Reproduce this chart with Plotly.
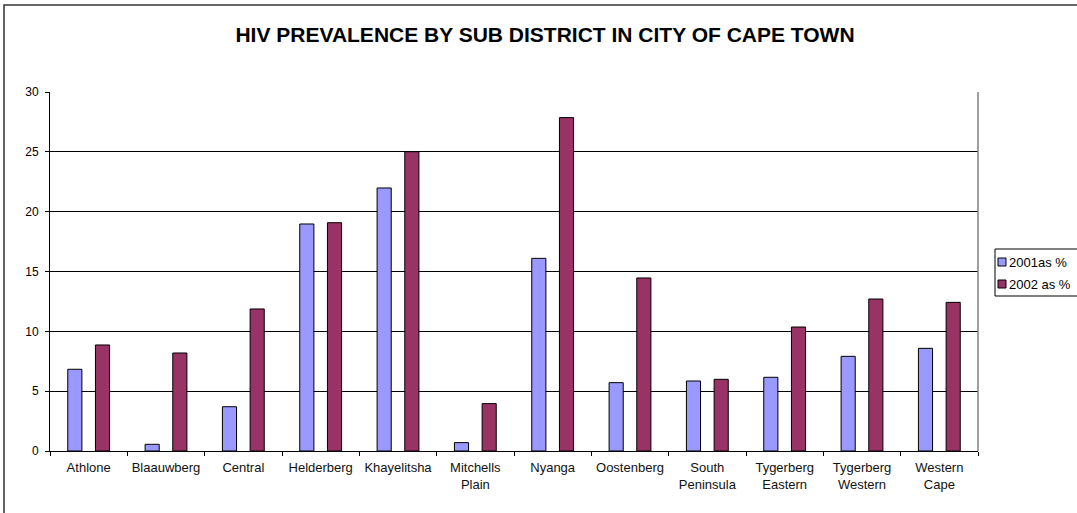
import plotly.graph_objects as go

categories = ["Athlone", "Blaauwberg", "Central", "Helderberg", "Khayelitsha",
              "Mitchells<br>Plain", "Nyanga", "Oostenberg", "South<br>Peninsula",
              "Tygerberg<br>Eastern", "Tygerberg<br>Western", "Western<br>Cape"]
series_names = ["2001as %", "2002 as %"]
values_2001 = [6.83, 0.56, 3.70, 18.97, 21.98, 0.70, 16.1, 5.71, 5.85, 6.16, 7.91, 8.58]
values_2002 = [8.86, 8.19, 11.87, 19.08, 25.01, 3.96, 27.86, 14.46, 5.99, 10.36, 12.70, 12.42]
colors = ["#9999FF", "#993366"]
y_ticks = [0, 5, 10, 15, 20, 25, 30]
title_text = "HIV PREVALENCE BY SUB DISTRICT IN CITY OF CAPE TOWN"

W, H = 1077, 513
L, R, T, B = 50, 978, 92, 451  # plot area in pixels

def px_x(x):
    return (x - L) / (R - L)

def px_y(y):
    return (B - y) / (B - T)

FONT = "Arial, 'Liberation Sans', sans-serif"

fig = go.Figure()
for name, vals, col in zip(series_names, [values_2001, values_2002], colors):
    fig.add_trace(go.Bar(x=categories, y=vals, name=name,
                         marker=dict(color=col, line=dict(color="black", width=1)),
                         showlegend=False))

shapes = []
# outer chart frame
shapes.append(dict(type="rect", xref="paper", yref="paper",
                   x0=px_x(4), x1=px_x(1100), y0=px_y(530), y1=px_y(5),
                   line=dict(color="#333333", width=1.5), fillcolor="rgba(0,0,0,0)", layer="above"))
# right border of plot area
shapes.append(dict(type="line", xref="paper", yref="paper", x0=1, x1=1, y0=0, y1=1,
                   line=dict(color="#808080", width=1.5)))
# legend box
shapes.append(dict(type="rect", xref="paper", yref="paper",
                   x0=px_x(995), x1=px_x(1120), y0=px_y(296), y1=px_y(249),
                   line=dict(color="black", width=1), fillcolor="white", layer="above"))
annotations = []
for i, (name, col) in enumerate(zip(series_names, colors)):
    cy = 262 + i * 22
    shapes.append(dict(type="rect", xref="paper", yref="paper",
                       x0=px_x(998), x1=px_x(1006), y0=px_y(cy + 4), y1=px_y(cy - 4),
                       line=dict(color="black", width=1), fillcolor=col, layer="above"))
    annotations.append(dict(x=px_x(1007), y=px_y(cy), xref="paper", yref="paper",
                            text=name, showarrow=False, xanchor="left", yanchor="middle",
                            font=dict(family=FONT, size=13, color="black")))

fig.update_layout(
    width=W, height=H,
    margin=dict(l=L, r=W - R, t=T, b=H - B, pad=0, autoexpand=False),
    paper_bgcolor="white", plot_bgcolor="white",
    barmode="group", bargap=0.284, bargroupgap=0.49,
    title=dict(text="<b>" + title_text + "</b>", x=545 / W, xanchor="center",
               y=1 - 35 / H, yanchor="middle", xref="container", yref="container",
               font=dict(family=FONT, size=21, color="black")),
    font=dict(family=FONT, size=13, color="black"),
    shapes=shapes, annotations=annotations,
    xaxis=dict(showline=True, linecolor="black", linewidth=1, ticks="outside",
               tickson="boundaries", ticklen=4, tickcolor="black", ticklabelstandoff=4,
               tickangle=0, automargin=False,
               tickfont=dict(family=FONT, size=13, color="#111111"), showgrid=False),
    yaxis=dict(range=[0, 30], tickvals=y_ticks, showline=True, linecolor="black",
               linewidth=1, ticks="outside", ticklen=4, tickcolor="black",
               ticklabelstandoff=4, automargin=False,
               showgrid=True, gridcolor="black", gridwidth=1, zeroline=False,
               tickfont=dict(family=FONT, size=12, color="black")),
)

fig.write_html("out.html")
